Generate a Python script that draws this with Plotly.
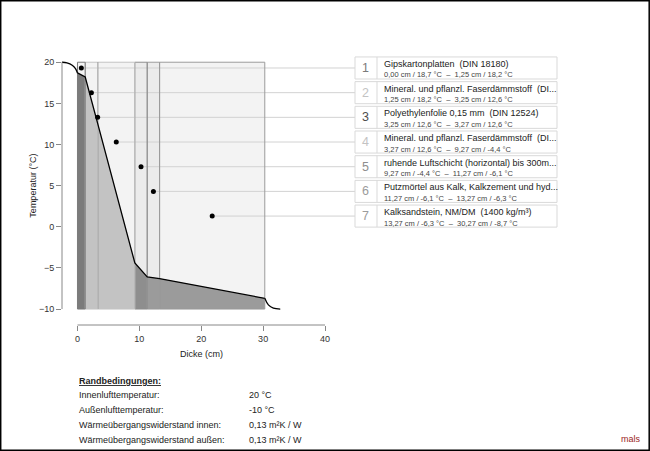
import plotly.graph_objects as go

# layer boundaries (cm) and interface temperatures (°C)
boundaries = [0, 1.25, 3.25, 3.27, 9.27, 11.27, 13.27, 30.27]
temps = [18.7, 18.2, 12.6, 12.6, -4.4, -6.1, -6.3, -8.7]

layer_names = [
    "Gipskartonplatten  (DIN 18180)",
    "Mineral. und pflanzl. Faserdämmstoff  (DI...",
    "Polyethylenfolie 0,15 mm  (DIN 12524)",
    "Mineral. und pflanzl. Faserdämmstoff  (DI...",
    "ruhende Luftschicht (horizontal) bis 300m...",
    "Putzmörtel aus Kalk, Kalkzement und hyd...",
    "Kalksandstein, NM/DM  (1400 kg/m³)",
]
label_y = [19.3, 16.3, 13.3, 10.3, 7.3, 4.3, 1.3]

# boundary layer curves in the air
inner_curve_x = [-2.5, -1.7, -0.85, -0.32, 0]
inner_curve_y = [20.0, 19.92, 19.64, 19.23, 18.7]
outer_curve_x = [30.27, 30.85, 31.66, 32.77]
outer_curve_y = [-8.7, -9.5, -9.9, -10.0]

t_inside = 20
t_outside = -10

rand_labels = ["Innenlufttemperatur:", "Außenlufttemperatur:",
               "Wärmeübergangswiderstand innen:", "Wärmeübergangswiderstand außen:"]
rand_values = ["20 °C", "-10 °C", "0,13 m²K / W", "0,13 m²K / W"]

layer_colors = ["#7b7b7b", "#c3c3c3", "#4d4d4d", "#c3c3c3", "#8e8e8e", "#9b9b9b", "#9b9b9b"]
bg_colors = ["#f3f3f3", "#f3f3f3", "#f3f3f3", "#f3f3f3", "#ebebeb", "#ebebeb", "#f3f3f3"]

FONT = "Liberation Sans, Arial, sans-serif"
W, H = 650, 451
L, R, T, B = 62, 325, 54, 126


def px(x):
    return (x - L) / (R - L)


def py(y):
    return (H - B - y) / (H - B - T)


def de(v, n):
    return f"{v:.{n}f}".replace(".", ",")


n = len(layer_names)
mids = [(boundaries[i] + boundaries[i + 1]) / 2 for i in range(n)]

fig = go.Figure()

# layer fills below the temperature profile
for i in range(n):
    x0, x1 = boundaries[i], boundaries[i + 1]
    fig.add_trace(go.Scatter(
        x=[x0, x0, x1, x1, x0], y=[t_outside, temps[i], temps[i + 1], t_outside, t_outside],
        mode="lines", fill="toself", fillcolor=layer_colors[i],
        line=dict(width=0, color=layer_colors[i]), hoverinfo="skip"))

# layer outlines, drawn back to front
for i in reversed(range(n)):
    x0, x1 = boundaries[i], boundaries[i + 1]
    fig.add_trace(go.Scatter(
        x=[x0, x0, x1, x1, x0], y=[t_outside, t_inside, t_inside, t_outside, t_outside],
        mode="lines", line=dict(width=1, color=layer_colors[i]), hoverinfo="skip"))

# temperature profile
fig.add_trace(go.Scatter(x=boundaries, y=temps, mode="lines",
                         line=dict(color="black", width=1.3), hoverinfo="skip"))
fig.add_trace(go.Scatter(x=inner_curve_x, y=inner_curve_y, mode="lines",
                         line=dict(color="black", width=1.3, shape="spline"), hoverinfo="skip"))
fig.add_trace(go.Scatter(x=outer_curve_x, y=outer_curve_y, mode="lines",
                         line=dict(color="black", width=1.3, shape="spline"), hoverinfo="skip"))

fig.add_trace(go.Scatter(x=mids, y=label_y, mode="markers",
                         marker=dict(color="black", size=5), hoverinfo="skip"))

shapes = []
for i in range(n):
    shapes.append(dict(type="rect", xref="x", yref="y", x0=boundaries[i], x1=boundaries[i + 1],
                       y0=t_outside, y1=t_inside, fillcolor=bg_colors[i], line=dict(width=0),
                       layer="below"))
for i in range(n):
    shapes.append(dict(type="line", xref="x", yref="y", x0=mids[i], x1=40, y0=label_y[i],
                       y1=label_y[i], line=dict(color="#d2d2d2", width=1), layer="below"))
    shapes.append(dict(type="line", xref="paper", yref="y", x0=1, x1=px(355), y0=label_y[i],
                       y1=label_y[i], line=dict(color="#d2d2d2", width=1), layer="below"))

# legend boxes
annotations = []
for i in range(n):
    ly = label_y[i]
    shapes.append(dict(type="rect", xref="paper", yref="y", x0=px(355), x1=px(557),
                       y0=ly - 1.34, y1=ly + 1.34, fillcolor="white",
                       line=dict(color="#d9d9d9", width=1)))
    shapes.append(dict(type="line", xref="paper", yref="y", x0=px(377), x1=px(377),
                       y0=ly - 1.34, y1=ly + 1.34, line=dict(color="#d9d9d9", width=1)))
    annotations.append(dict(xref="paper", yref="y", x=px(366), y=ly, text=str(i + 1),
                            showarrow=False, xanchor="center", yanchor="middle",
                            font=dict(family=FONT, size=12.5, color=layer_colors[i])))
    annotations.append(dict(xref="paper", yref="y", x=px(382), y=ly + 0.48,
                            text=layer_names[i].replace("  ", "\u00a0 "),
                            showarrow=False, xanchor="left", yanchor="middle",
                            font=dict(family=FONT, size=9, color="#222")))
    sub = (f"{de(boundaries[i], 2)} cm / {de(temps[i], 1)} °C\u00a0 –\u00a0 "
           f"{de(boundaries[i + 1], 2)} cm / {de(temps[i + 1], 1)} °C")
    annotations.append(dict(xref="paper", yref="y", x=px(382), y=ly - 0.85, text=sub,
                            showarrow=False, xanchor="left", yanchor="middle",
                            font=dict(family=FONT, size=7.5, color="#444")))

# R-style detached axis lines
shapes.append(dict(type="line", xref="x", yref="paper", x0=0, x1=40, y0=0, y1=0,
                   line=dict(color="#888", width=1)))
shapes.append(dict(type="line", xref="paper", yref="y", x0=0, x1=0, y0=t_outside, y1=t_inside,
                   line=dict(color="#888", width=1)))

# frame around the whole picture
shapes.append(dict(type="rect", xref="paper", yref="paper", x0=px(0.7), x1=px(649.2),
                   y0=py(450.2), y1=py(0.7), line=dict(color="black", width=1.5)))

annotations.append(dict(xref="paper", yref="y", x=px(33), y=5, text="Temperatur (°C)",
                        textangle=-90, showarrow=False, xanchor="center", yanchor="middle",
                        font=dict(family=FONT, size=9, color="#222")))
annotations.append(dict(xref="x", yref="paper", x=20, y=py(354), text="Dicke (cm)",
                        showarrow=False, xanchor="center", yanchor="middle",
                        font=dict(family=FONT, size=9, color="#222")))

annotations.append(dict(xref="paper", yref="paper", x=px(77), y=py(380.5),
                        text="<b><u>Randbedingungen:</u></b>", showarrow=False,
                        xanchor="left", yanchor="middle",
                        font=dict(family=FONT, size=9, color="#222")))
for k, (lab, val) in enumerate(zip(rand_labels, rand_values)):
    yy = py(395 + k * 15)
    annotations.append(dict(xref="paper", yref="paper", x=px(77), y=yy, text=lab,
                            showarrow=False, xanchor="left", yanchor="middle",
                            font=dict(family=FONT, size=9, color="#222")))
    annotations.append(dict(xref="paper", yref="paper", x=px(247), y=yy, text=val,
                            showarrow=False, xanchor="left", yanchor="middle",
                            font=dict(family=FONT, size=9, color="#222")))

annotations.append(dict(xref="paper", yref="paper", x=px(643), y=py(439), text="mals",
                        showarrow=False, xanchor="right", yanchor="middle",
                        font=dict(family=FONT, size=9, color="#9b1c1c")))

fig.update_layout(
    width=W, height=H,
    margin=dict(l=L, r=W - R, t=T, b=B),
    paper_bgcolor="white", plot_bgcolor="white",
    showlegend=False,
    shapes=shapes, annotations=annotations,
    xaxis=dict(range=[-2.5, 40], tickvals=[0, 10, 20, 30, 40], showgrid=False, zeroline=False,
               showline=False, ticks="outside", ticklen=5, tickcolor="#888",
               tickfont=dict(family=FONT, size=9, color="#333")),
    yaxis=dict(range=[-11.94, 21], tickvals=[-10, -5, 0, 5, 10, 15, 20], showgrid=False,
               zeroline=False, showline=False, ticks="outside", ticklen=5, tickcolor="#888",
               tickfont=dict(family=FONT, size=9, color="#333")),
)

# page margin off so the 650x451 figure fills the window
fig.write_html("out.html", config={"displayModeBar": False},
               post_script="document.body.style.margin='0';")
